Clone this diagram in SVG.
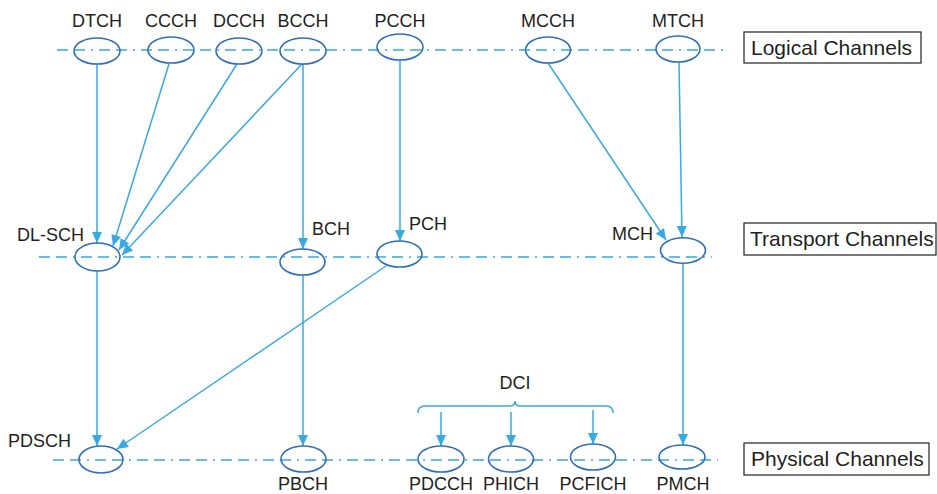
<svg xmlns="http://www.w3.org/2000/svg" width="937" height="494" viewBox="0 0 937 494">
<style>
.lvl{fill:none;stroke:#3aa6e0;stroke-width:1.3;stroke-dasharray:11 6 11 6 2 6}
.node{fill:none;stroke:#2f6fb8;stroke-width:1.6}
.lbl{font-family:"Liberation Sans",Arial,sans-serif;font-size:18px;fill:#231f20}
.box{fill:#fff;stroke:#231f20;stroke-width:1.2}
.boxt{font-family:"Liberation Sans",Arial,sans-serif;font-size:21px;fill:#231f20}
.conn line,.conn path{stroke:#39a9e1;stroke-width:1.5;fill:none}
.arr line{marker-end:url(#ah)}
</style>
<defs>
<marker id="ah" markerUnits="userSpaceOnUse" markerWidth="11" markerHeight="10" refX="11" refY="5" orient="auto">
<path d="M0,0 L11,5 L0,10 z" fill="#39a9e1"/>
</marker>
</defs>
<rect width="937" height="494" fill="#fff"/>

<g id="levels">
<line class="lvl" x1="57" y1="50" x2="728" y2="50"/>
<line class="lvl" x1="39" y1="257" x2="712" y2="257"/>
<line class="lvl" x1="53" y1="460" x2="718" y2="460"/>
</g>

<g id="level-labels">
<g id="logical-channels"><rect class="box" x="744" y="32" width="177" height="31"/><text class="boxt" x="751" y="55">Logical Channels</text></g>
<g id="transport-channels"><rect class="box" x="744" y="223" width="192" height="32"/><text class="boxt" x="750" y="246">Transport Channels</text></g>
<g id="physical-channels"><rect class="box" x="744" y="443" width="185" height="32"/><text class="boxt" x="751" y="466">Physical Channels</text></g>
</g>

<g id="connectors" class="conn">
<g class="arr">
<line x1="97" y1="64" x2="97" y2="243"/>
<line x1="169" y1="64" x2="113" y2="246"/>
<line x1="237" y1="64" x2="119" y2="250"/>
<line x1="302" y1="64" x2="122" y2="255"/>
<line x1="303" y1="64" x2="303" y2="249"/>
<line x1="400" y1="60" x2="400" y2="241"/>
<line x1="548" y1="63" x2="666" y2="240"/>
<line x1="679" y1="62" x2="682" y2="237"/>
<line x1="97" y1="271" x2="97" y2="446"/>
<line x1="386" y1="266" x2="117" y2="449"/>
<line x1="303" y1="275" x2="303" y2="446"/>
<line x1="683" y1="263" x2="683" y2="445"/>
<line x1="441" y1="412" x2="441" y2="446"/>
<line x1="511" y1="412" x2="511" y2="446"/>
<line x1="593" y1="410" x2="593" y2="444"/>
</g>
<path id="dci-brace" d="M418,413 Q418,406 425,406 L510,406 Q515,406 515,401 Q515,406 520,406 L606,406 Q613,406 613,413"/>
</g>

<g id="DTCH"><ellipse class="node" cx="97" cy="51" rx="23" ry="13"/><text class="lbl" x="97" y="27" text-anchor="middle">DTCH</text></g>
<g id="CCCH"><ellipse class="node" cx="171" cy="50" rx="23" ry="13"/><text class="lbl" x="171" y="27" text-anchor="middle">CCCH</text></g>
<g id="DCCH"><ellipse class="node" cx="239" cy="51" rx="23" ry="13"/><text class="lbl" x="239" y="27" text-anchor="middle">DCCH</text></g>
<g id="BCCH"><ellipse class="node" cx="303" cy="51" rx="23" ry="13"/><text class="lbl" x="303" y="27" text-anchor="middle">BCCH</text></g>
<g id="PCCH"><ellipse class="node" cx="400" cy="47" rx="23" ry="13"/><text class="lbl" x="400" y="27" text-anchor="middle">PCCH</text></g>
<g id="MCCH"><ellipse class="node" cx="548" cy="50" rx="22.5" ry="13"/><text class="lbl" x="548" y="27" text-anchor="middle">MCCH</text></g>
<g id="MTCH"><ellipse class="node" cx="678" cy="49" rx="22" ry="13"/><text class="lbl" x="678" y="27" text-anchor="middle">MTCH</text></g>

<g id="DL-SCH"><ellipse class="node" cx="97.5" cy="257" rx="22.5" ry="14"/><text class="lbl" x="17" y="241">DL-SCH</text></g>
<g id="BCH"><ellipse class="node" cx="302.5" cy="262" rx="22.5" ry="13"/><text class="lbl" x="312" y="235">BCH</text></g>
<g id="PCH"><ellipse class="node" cx="399.5" cy="254" rx="22.5" ry="13"/><text class="lbl" x="409" y="230">PCH</text></g>
<g id="MCH"><ellipse class="node" cx="683" cy="250.5" rx="22.5" ry="12.7"/><text class="lbl" x="612" y="240">MCH</text></g>

<g id="PDSCH"><ellipse class="node" cx="101" cy="459.5" rx="22" ry="13.5"/><text class="lbl" x="8" y="447">PDSCH</text></g>
<g id="PBCH"><ellipse class="node" cx="303.5" cy="459" rx="22.5" ry="13"/><text class="lbl" x="303" y="490" text-anchor="middle">PBCH</text></g>
<g id="PDCCH"><ellipse class="node" cx="441" cy="459" rx="23" ry="13"/><text class="lbl" x="441" y="490" text-anchor="middle">PDCCH</text></g>
<g id="PHICH"><ellipse class="node" cx="511" cy="459" rx="22.5" ry="13"/><text class="lbl" x="511" y="490" text-anchor="middle">PHICH</text></g>
<g id="PCFICH"><ellipse class="node" cx="593" cy="457" rx="22.5" ry="13"/><text class="lbl" x="593" y="490" text-anchor="middle">PCFICH</text></g>
<g id="PMCH"><ellipse class="node" cx="682" cy="457" rx="23" ry="12"/><text class="lbl" x="683" y="490" text-anchor="middle">PMCH</text></g>

<g id="DCI"><text class="lbl" x="515" y="389" text-anchor="middle">DCI</text></g>
</svg>
